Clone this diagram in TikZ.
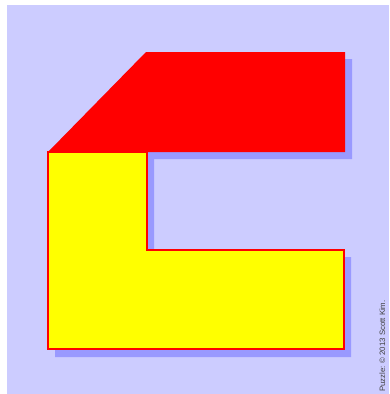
\documentclass[tikz,border=0pt]{standalone}
\usepackage{fontspec}
\setmainfont{Liberation Sans}
\definecolor{bg}{HTML}{CCCCFF}
\definecolor{shadowcol}{HTML}{9999FF}
\definecolor{pred}{HTML}{FF0000}
\definecolor{pyel}{HTML}{FFFF00}
\tikzset{
  piece/.style={draw=pred, line width=1.5pt, line join=miter},
  credit/.style={font=\fontsize{7.8}{9}\selectfont, text=black!75, rotate=90, inner sep=0pt, anchor=south west}
}
\begin{document}
\begin{tikzpicture}[x=1pt,y=-1pt]
\useasboundingbox (0,0) rectangle (389,394);
\fill[bg] (7,5) rectangle (389,394);
% shadow
\fill[shadowcol] (55,159) -- (153,59) -- (352,59) -- (352,159) -- (154,159) -- (154,257) -- (351,257) -- (351,357) -- (55,357) -- cycle;
% red piece
\fill[pred] (48,152) -- (146,52) -- (345,52) -- (345,152) -- cycle;
% yellow piece
\filldraw[piece, fill=pyel] (48,152) -- (147,152) -- (147,250) -- (344,250) -- (344,349) -- (48,349) -- cycle;
\node[credit] (cr) at (385.5,392) {Puzzle: © 2013 Scott Kim.};
\end{tikzpicture}
\end{document}
